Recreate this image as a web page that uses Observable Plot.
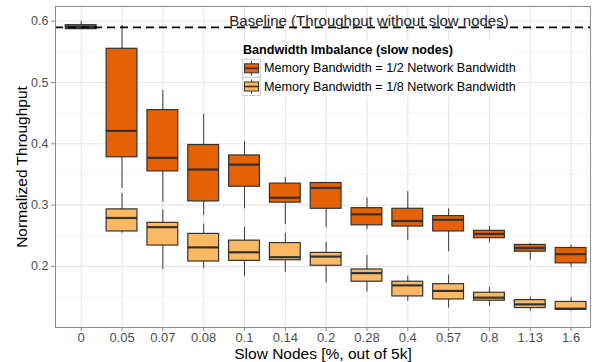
<!DOCTYPE html>
<html><head><meta charset="utf-8">
<script src="https://cdn.jsdelivr.net/npm/d3@7"></script>
<script src="https://cdn.jsdelivr.net/npm/@observablehq/plot@0.6"></script>
<style>
body{margin:0;background:#fff;font-family:"Liberation Sans",Arial,sans-serif;}
#wrap{position:relative;width:600px;height:362px;}
#legend{position:absolute;left:240px;top:40px;}
</style></head><body><div id="wrap"></div>
<script>
// ---- data ----
const categories = ["0","0.05","0.07","0.08","0.1","0.14","0.2","0.28","0.4","0.57","0.8","1.13","1.6"];
const seriesNames = ["Memory Bandwidth = 1/2 Network Bandwidth","Memory Bandwidth = 1/8 Network Bandwidth"];
const legendTitle = "Bandwidth Imbalance (slow nodes)";
const baselineLabel = "Baseline (Throughput without slow nodes)";
const xTitle = "Slow Nodes [%, out of 5k]";
const yTitle = "Normalized Throughput";
const baselineValue = 0.59;
// baseline box at category "0": lower, q1, median, q3, upper
const baselineBox = [0.587, 0.587, 0.590, 0.5935, 0.5995];
// series 1 (1/2), categories 0.05 .. 1.6
const lowHalf  = [0.327,0.305,0.283,0.294,0.268,0.263,0.260,0.242,0.224,0.238,0.210,0.198];
const q1Half   = [0.378,0.355,0.306,0.330,0.304,0.294,0.267,0.265,0.257,0.246,0.224,0.205];
const medHalf  = [0.421,0.377,0.358,0.366,0.312,0.328,0.285,0.274,0.276,0.253,0.230,0.220];
const q3Half   = [0.555,0.455,0.398,0.381,0.335,0.336,0.295,0.294,0.282,0.258,0.235,0.230];
const highHalf = [0.593,0.487,0.448,0.404,0.345,0.337,0.312,0.322,0.294,0.265,0.237,0.235];
// series 2 (1/8)
const lowEighth  = [0.254,0.195,0.196,0.183,0.190,0.173,0.158,0.143,0.132,0.135,0.127,0.127];
const q1Eighth   = [0.257,0.234,0.208,0.209,0.210,0.201,0.175,0.151,0.146,0.144,0.132,0.129];
const medEighth  = [0.279,0.264,0.231,0.223,0.215,0.216,0.189,0.169,0.160,0.149,0.138,0.131];
const q3Eighth   = [0.293,0.271,0.253,0.242,0.238,0.222,0.195,0.175,0.171,0.157,0.145,0.142];
const highEighth = [0.319,0.292,0.269,0.264,0.254,0.239,0.218,0.184,0.186,0.166,0.150,0.149];
const yMajor = [0.2,0.3,0.4,0.5,0.6];
const yMinor = [0.15,0.25,0.35,0.45,0.55];
const colors = ["#E66101","#FDB863"];
const baselineColor = "#5a5a5a";

// ---- build tables ----
const cats = categories.slice(1);
const rowsHalf = cats.map((c,i)=>({cat:c, series:seriesNames[0], lo:lowHalf[i], q1:q1Half[i], med:medHalf[i], q3:q3Half[i], hi:highHalf[i]}));
const rowsEighth = cats.map((c,i)=>({cat:c, series:seriesNames[1], lo:lowEighth[i], q1:q1Eighth[i], med:medEighth[i], q3:q3Eighth[i], hi:highEighth[i]}));
const rowsBase = [{cat:categories[0], series:"Baseline", lo:baselineBox[0], q1:baselineBox[1], med:baselineBox[2], q3:baselineBox[3], hi:baselineBox[4]}];

const boxMarks = (rows) => [
  Plot.ruleX(rows, {x:"cat", y1:"lo", y2:"hi", stroke:"#3a3a3a", strokeWidth:1}),
  Plot.barY(rows, {x:"cat", y1:"q1", y2:"q3", fill:"series", stroke:"#333", strokeWidth:1.2, insetLeft:5, insetRight:5}),
  Plot.tickY(rows, {x:"cat", y:"med", stroke:"#333", strokeWidth:2.2, insetLeft:5, insetRight:5})
];

const chart = Plot.plot({
  width:600, height:362,
  marginLeft:55, marginRight:10, marginTop:6, marginBottom:35,
  style:{fontFamily:"Liberation Sans, Arial, sans-serif", background:"white"},
  x:{type:"band", domain:categories, range:[60.3,591], padding:0, round:false},
  y:{domain:[0.1003,0.624]},
  color:{domain:[...seriesNames,"Baseline"], range:[...colors, baselineColor]},
  marks:[
    Plot.gridY(yMinor, {stroke:"#f2f2f2", strokeOpacity:1, strokeWidth:0.8}),
    Plot.gridY(yMajor, {stroke:"#e6e6e6", strokeOpacity:1, strokeWidth:1.1}),
    Plot.gridX(categories, {stroke:"#e6e6e6", strokeOpacity:1, strokeWidth:1.1}),
    Plot.axisY(yMajor, {tickSize:4, tickPadding:3, fontSize:12.5, fill:"#4d4d4d", stroke:"#8c8c8c", tickFormat:d=>d.toFixed(1), label:null}),
    Plot.axisX(categories, {tickSize:4, tickPadding:1, fontSize:13, fill:"#4d4d4d", stroke:"#8c8c8c", label:null}),
    ...boxMarks(rowsBase),
    ...boxMarks(rowsHalf),
    ...boxMarks(rowsEighth),
    Plot.ruleY([baselineValue], {stroke:"#000", strokeWidth:1.6, strokeDasharray:"8,5"}),
    Plot.text([baselineLabel], {text:d=>d, y:()=>baselineValue, frameAnchor:"middle", dx:46, dy:-1, textAnchor:"middle", lineAnchor:"bottom", fontSize:15, fill:"#222"}),
    Plot.text([xTitle], {text:d=>d, frameAnchor:"bottom", dy:27, textAnchor:"middle", lineAnchor:"middle", fontSize:15.5, fill:"#000"}),
    Plot.text([yTitle], {text:d=>d, frameAnchor:"left", dx:-33, rotate:-90, textAnchor:"middle", lineAnchor:"middle", fontSize:15.5, fill:"#000"}),
    Plot.frame({stroke:"#8c8c8c", strokeWidth:1})
  ]
});
const wrap = document.getElementById("wrap");
wrap.appendChild(chart);

// ---- in-panel legend ----
const lg = d3.create("svg").attr("id","legend").attr("width",280).attr("height",58)
  .style("font-family","Liberation Sans, Arial, sans-serif");
lg.append("rect").attr("width",278).attr("height",57).attr("fill","#fff");
lg.append("text").attr("x",3).attr("y",14).attr("font-size",12.6).attr("font-weight","bold").attr("fill","#000").text(legendTitle);
seriesNames.forEach((name,i)=>{
  const y0 = 19.3 + i*18.2;
  const g = lg.append("g").attr("transform",`translate(2.7,${y0})`);
  g.append("rect").attr("width",17.6).attr("height",18).attr("fill","#fff").attr("stroke","#cccccc");
  g.append("line").attr("x1",8.8).attr("x2",8.8).attr("y1",1.8).attr("y2",16.2).attr("stroke","#3a3a3a");
  g.append("rect").attr("x",1.8).attr("y",4.5).attr("width",14).attr("height",9).attr("fill",colors[i]).attr("stroke","#333").attr("stroke-width",1);
  g.append("line").attr("x1",1.8).attr("x2",15.8).attr("y1",9).attr("y2",9).attr("stroke","#333").attr("stroke-width",1.6);
  lg.append("text").attr("x",24).attr("y",y0+13).attr("font-size",12.6).attr("fill","#000").text(name);
});
wrap.appendChild(lg.node());
</script>
</body></html>
